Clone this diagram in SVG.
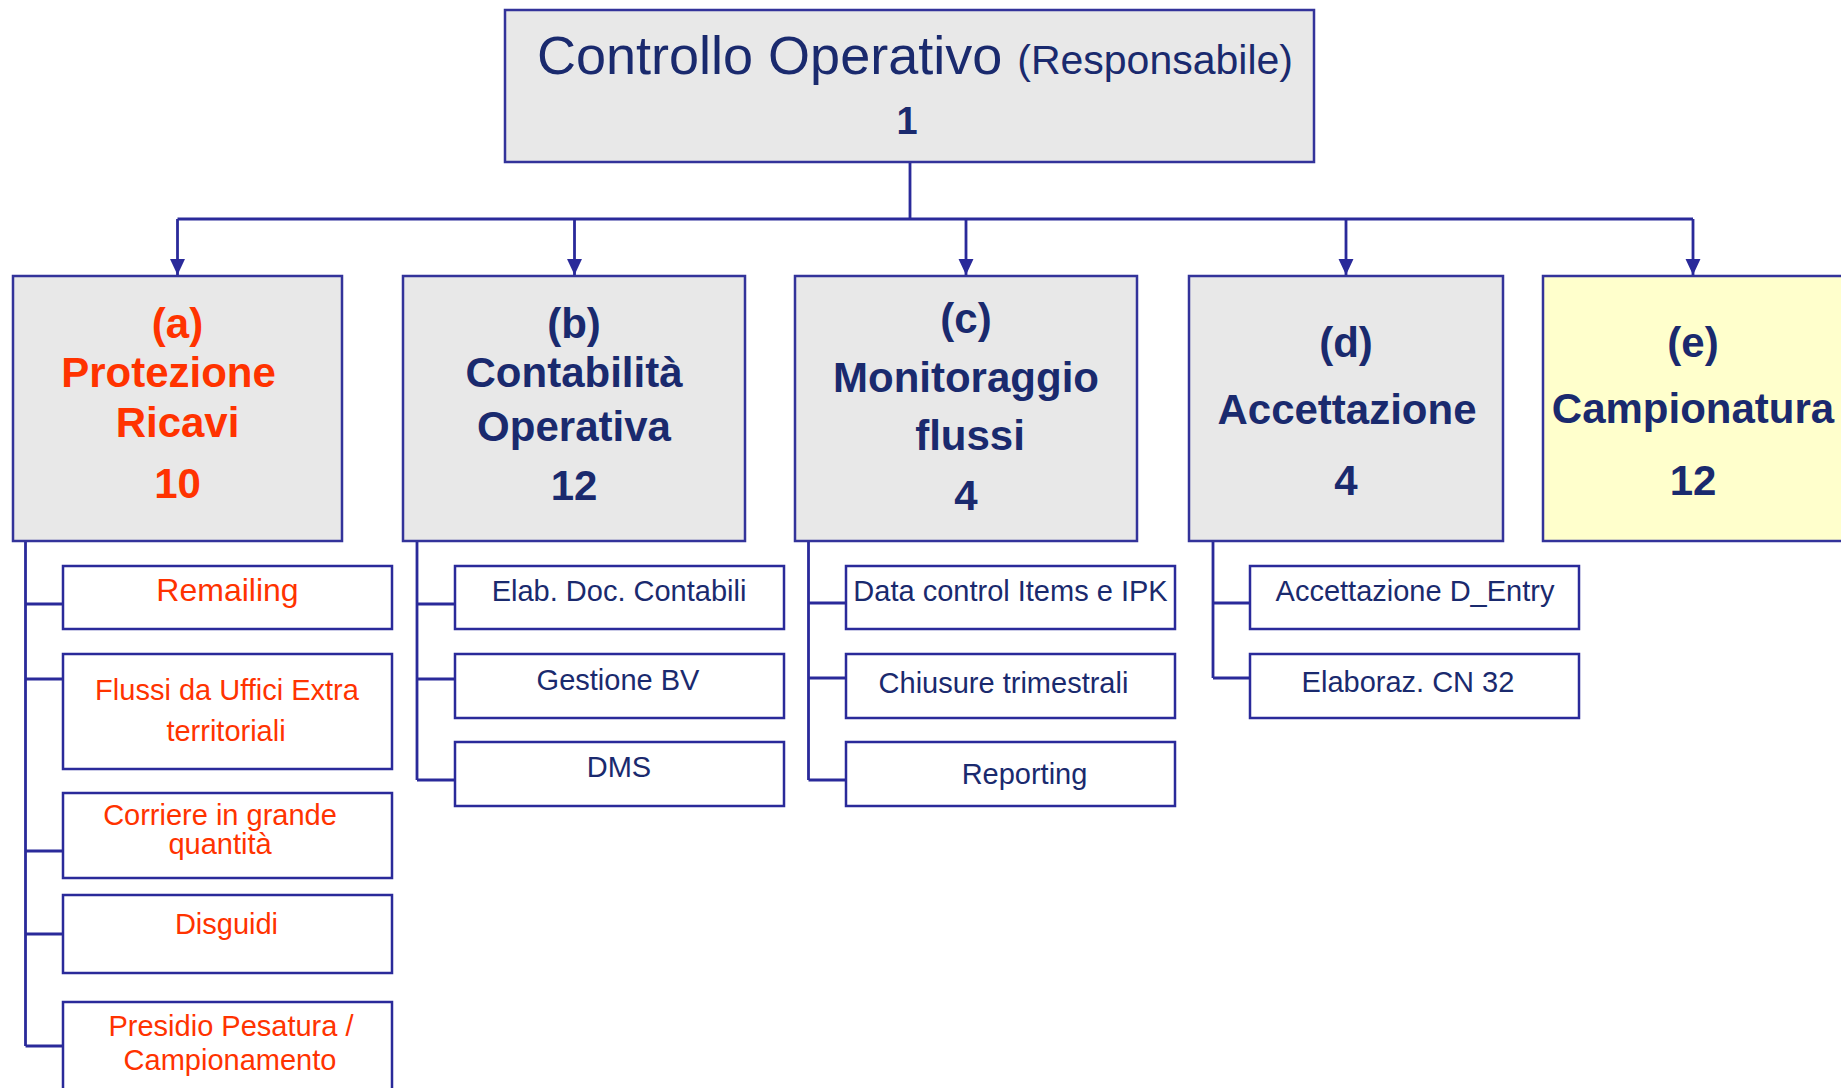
<svg xmlns="http://www.w3.org/2000/svg" width="1841" height="1088" viewBox="0 0 1841 1088">
<defs>
<style>
.box{fill:#e8e8e8;stroke:#33339a;stroke-width:2.5}
.ybox{fill:#ffffcc;stroke:#33339a;stroke-width:2.5}
.sub{fill:#ffffff;stroke:#2a2a9a;stroke-width:2.5}
.conn{stroke:#2a2a9a;stroke-width:2.8;fill:none}
text{font-family:"Liberation Sans",Arial,sans-serif;fill:#1a2a6e;text-anchor:middle}
.red{fill:#ff3300}
.big{font-size:42px;font-weight:bold}
.s{font-size:29px}
</style>
<marker id="arr" markerUnits="userSpaceOnUse" markerWidth="16" markerHeight="16" viewBox="0 0 15 14" refX="15" refY="7" orient="auto">
<path d="M0,0 L15,7 L0,14 z" fill="#2a2a9a"/>
</marker>
</defs>
<rect width="1841" height="1088" fill="#ffffff"/>

<g id="connectors">
<path class="conn" d="M910,162 V219 M177.5,219 H1693"/>
<path class="conn" d="M177.5,219 V275" marker-end="url(#arr)"/>
<path class="conn" d="M574.5,219 V275" marker-end="url(#arr)"/>
<path class="conn" d="M966,219 V275" marker-end="url(#arr)"/>
<path class="conn" d="M1346,219 V275" marker-end="url(#arr)"/>
<path class="conn" d="M1693,219 V275" marker-end="url(#arr)"/>
<path class="conn" d="M25.5,541 V1046 M25.5,604 H63 M25.5,679 H63 M25.5,851 H63 M25.5,934 H63 M25.5,1046 H63"/>
<path class="conn" d="M417,541 V780 M417,604 H455 M417,679 H455 M417,780 H455"/>
<path class="conn" d="M808.5,541 V780 M808.5,603 H846 M808.5,678 H846 M808.5,780 H846"/>
<path class="conn" d="M1213,541 V678 M1213,603 H1250 M1213,678 H1250"/>
</g>

<g id="root">
<rect class="box" x="505" y="10" width="809" height="152"/>
<text x="915" y="74"><tspan font-size="54">Controllo Operativo </tspan><tspan font-size="41">(Responsabile)</tspan></text>
<text x="907" y="134" font-size="38" font-weight="bold">1</text>
</g>

<g id="node-a">
<rect class="box" x="13" y="276" width="329" height="265"/>
<text class="big red" x="177.5" y="338">(a)</text>
<text class="big red" x="168.5" y="387">Protezione</text>
<text class="big red" x="177.5" y="437">Ricavi</text>
<text class="big red" x="177.5" y="498">10</text>
</g>
<g id="node-b">
<rect class="box" x="403" y="276" width="342" height="265"/>
<text class="big" x="574" y="338">(b)</text>
<text class="big" x="574" y="387">Contabilità</text>
<text class="big" x="574" y="441">Operativa</text>
<text class="big" x="574" y="500">12</text>
</g>
<g id="node-c">
<rect class="box" x="795" y="276" width="342" height="265"/>
<text class="big" x="966" y="333">(c)</text>
<text class="big" x="966" y="392">Monitoraggio</text>
<text class="big" x="970" y="450">flussi</text>
<text class="big" x="966" y="510">4</text>
</g>
<g id="node-d">
<rect class="box" x="1189" y="276" width="314" height="265"/>
<text class="big" x="1346" y="357">(d)</text>
<text class="big" x="1347" y="424">Accettazione</text>
<text class="big" x="1346" y="495">4</text>
</g>
<g id="node-e">
<rect class="ybox" x="1543" y="276" width="320" height="265"/>
<text class="big" x="1693" y="357">(e)</text>
<text class="big" x="1693" y="423">Campionatura</text>
<text class="big" x="1693" y="495">12</text>
</g>

<g id="a1"><rect class="sub" x="63" y="566" width="329" height="63"/><text class="red" x="227.5" y="601" font-size="32">Remailing</text></g>
<g id="a2"><rect class="sub" x="63" y="654" width="329" height="115"/><text class="red s" x="227" y="700">Flussi da Uffici Extra</text><text class="red s" x="226" y="741">territoriali</text></g>
<g id="a3"><rect class="sub" x="63" y="793" width="329" height="85"/><text class="red s" x="220" y="825">Corriere in grande</text><text class="red s" x="220" y="854">quantità</text></g>
<g id="a4"><rect class="sub" x="63" y="895" width="329" height="78"/><text class="red s" x="226.5" y="934">Disguidi</text></g>
<g id="a5"><rect class="sub" x="63" y="1002" width="329" height="100"/><text class="red s" x="231" y="1036">Presidio Pesatura /</text><text class="red s" x="230" y="1070">Campionamento</text></g>

<g id="b1"><rect class="sub" x="455" y="566" width="329" height="63"/><text class="s" x="619" y="601">Elab. Doc. Contabili</text></g>
<g id="b2"><rect class="sub" x="455" y="654" width="329" height="64"/><text class="s" x="618" y="690">Gestione BV</text></g>
<g id="b3"><rect class="sub" x="455" y="742" width="329" height="64"/><text class="s" x="619" y="777">DMS</text></g>

<g id="c1"><rect class="sub" x="846" y="566" width="329" height="63"/><text class="s" x="1010.5" y="601">Data control Items e IPK</text></g>
<g id="c2"><rect class="sub" x="846" y="654" width="329" height="64"/><text class="s" x="1003.5" y="693">Chiusure trimestrali</text></g>
<g id="c3"><rect class="sub" x="846" y="742" width="329" height="64"/><text class="s" x="1024.5" y="784">Reporting</text></g>

<g id="d1"><rect class="sub" x="1250" y="566" width="329" height="63"/><text class="s" x="1415" y="601">Accettazione D_Entry</text></g>
<g id="d2"><rect class="sub" x="1250" y="654" width="329" height="64"/><text class="s" x="1408" y="692">Elaboraz. CN 32</text></g>
</svg>
